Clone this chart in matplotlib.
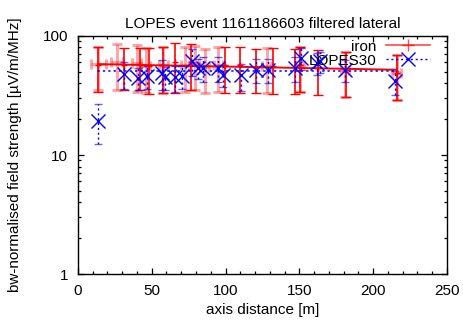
# LOPES event 1161186603: lateral distribution of the filtered field strength,
# measured LOPES30 values against the iron simulation, in gnuplot style.

import matplotlib
matplotlib.use('Agg')
import matplotlib.pyplot as plt
from matplotlib.lines import Line2D
from matplotlib.ticker import MultipleLocator, LogLocator, NullFormatter
import numpy as np

plt.rcParams['font.family'] = ['Liberation Sans', 'DejaVu Sans']

# iron simulation (bright red bars)
iron_x = [13.8, 31.4, 42.0, 48.3, 57.8, 65.7, 76.6, 99.6, 110.0, 120.6,
          132.3, 147.0, 150.4, 163.0, 182.0, 216.0]
iron_y = [57, 57, 57, 56, 57, 60, 60, 57, 57, 55, 56, 55, 57, 54, 52, 49]
iron_err = [23, 22, 22, 23.5, 24, 27, 25, 23.5, 23.5, 22, 23.5, 22.5, 23,
            22, 21, 20]

# second iron set (light red bars)
iron2_x = [13.8, 26.2, 39.7, 46.0, 57.8, 72.5, 79.3, 86.0, 95.0, 127.8,
           150.4, 181.0, 216.0]
iron2_y = [58, 60, 59, 56, 57, 57, 59, 55, 57, 56, 57, 52, 49]
iron2_err = [23, 25, 25, 23, 24, 23, 24, 22, 23, 23, 23, 21, 20]
iron2_xerr = [5, 4, 3, 3, 3, 3, 3, 3, 3, 3, 3, 3, 3]

# LOPES30 measurement
lopes_x = [13.3, 31.4, 40.9, 46.5, 57.1, 59.0, 65.7, 70.2, 77.5, 81.5, 84.9,
           95.0, 98.5, 110.2, 120.6, 129.0, 147.0, 151.5, 161.7, 164.0,
           180.9, 215.2]
lopes_y = [19.5, 48, 44.4, 45.8, 48.9, 45, 45, 45.8, 62, 53.8, 53.8, 53.8,
           47.3, 46.7, 52, 52, 53.8, 65.3, 59.3, 61.3, 52, 41.6]
lopes_err = [7.2, 12, 9, 10, 14, 10, 11, 10, 16, 10, 13, 13, 10, 12, 11.5,
             12, 12.5, 14, 12, 12, 11, 9.5]

# exponential fits eps = eps0 * exp(-R/R0)
iron_fit = (58.4, 1856.0)
lopes_fit = (50.8, 1.0e6)

fig = plt.figure(figsize=(4.64, 3.21), dpi=100)
ax = fig.add_axes([0.168, 0.146, 0.795, 0.742])

# light red set
ax.errorbar(iron2_x, iron2_y, yerr=iron2_err, xerr=iron2_xerr, fmt='none',
            ecolor='#ff0000', elinewidth=2.2, capsize=3.5, capthick=2.2,
            alpha=0.35)

# iron
ax.errorbar(iron_x, iron_y, yerr=iron_err, fmt='+', color='#ff0000',
            ms=5, mew=1, elinewidth=1.2, capsize=3.8, capthick=1.2)

# fit lines
rx = np.linspace(min(iron_x), max(iron_x), 100)
ax.plot(rx, iron_fit[0] * np.exp(-rx / iron_fit[1]), color='#ff0000', lw=1.4)
lx = np.linspace(min(lopes_x), max(lopes_x), 100)
ax.plot(lx, lopes_fit[0] * np.exp(-lx / lopes_fit[1]), color='#0000ff',
        lw=1.1, ls=(0, (1.5, 2)))

# LOPES30
eb = ax.errorbar(lopes_x, lopes_y, yerr=lopes_err, fmt='x', color='#0000ff',
                 ms=9.5, mew=1.0, elinewidth=1.0, capsize=3, capthick=1.0)
eb[2][0].set_linestyle((0, (1.5, 2)))
for cap in eb[1]:
    cap.set_alpha(0.6)

ax.set_yscale('log')
ax.set_xlim(0, 250)
ax.set_ylim(1, 100)
ax.xaxis.set_major_locator(MultipleLocator(50))
ax.xaxis.set_minor_locator(MultipleLocator(10))
ax.yaxis.set_major_locator(LogLocator(base=10))
ax.yaxis.set_minor_locator(LogLocator(base=10, subs=np.arange(2, 10)))
ax.yaxis.set_minor_formatter(NullFormatter())
ax.set_yticks([1, 10, 100])
ax.set_yticklabels(['1', '10', '100'])
ax.tick_params(which='both', direction='in', top=True, right=True,
               labelsize=11, colors='black', width=0.9)
ax.tick_params(which='major', length=4.5, pad=7)
ax.tick_params(which='minor', length=2.3)
for s in ax.spines.values():
    s.set_linewidth(1.0)

ax.set_title('LOPES event 1161186603 filtered lateral', fontsize=11, pad=6)
ax.set_xlabel('axis distance [m]', fontsize=11, labelpad=4)
ax.set_ylabel('bw-normalised field strength [\u00b5V/m/MHz]', fontsize=11,
              labelpad=15)

handles = [Line2D([], [], color='#ff0000', marker='+', ms=9, lw=1.2, alpha=0.7),
           Line2D([], [], color='#0000ff', marker='x', ms=9.5, lw=1.0,
                  ls=(0, (1.5, 2)))]
ax.legend(handles, ['iron', 'LOPES30'], loc='upper right',
          bbox_to_anchor=(0.955, 0.985), frameon=False, markerfirst=False,
          fontsize=11, handlelength=2.9, handletextpad=0.6, labelspacing=0.0,
          borderpad=0, borderaxespad=0)

fig.savefig('out.png', dpi=100)
